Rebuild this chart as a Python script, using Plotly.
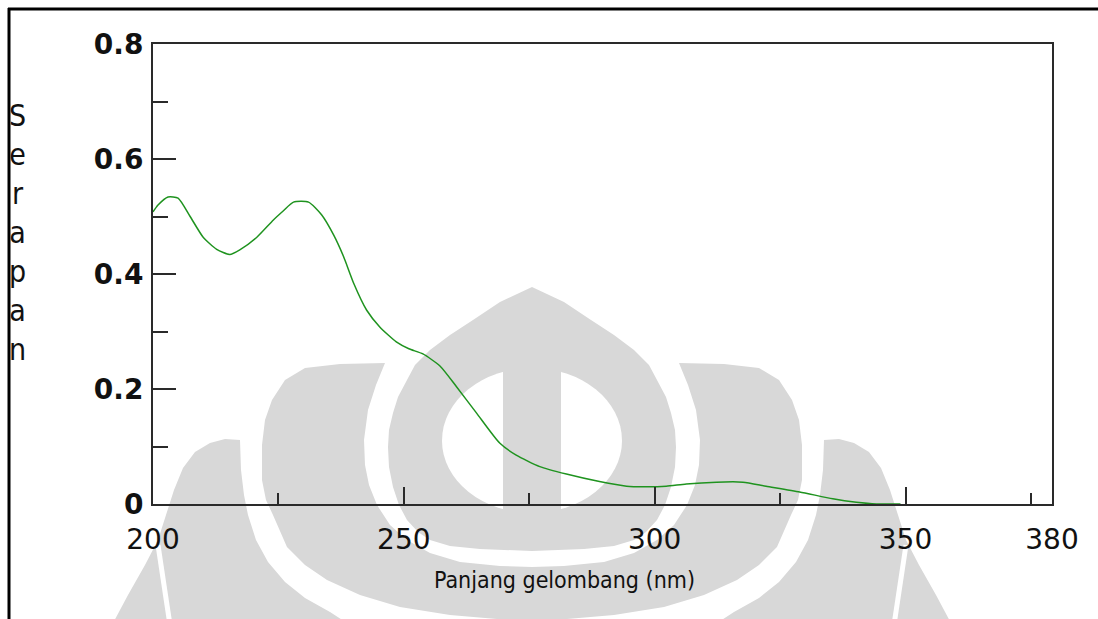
import plotly.graph_objects as go

# UV absorption spectrum
wavelength_nm = [200, 201, 203, 205, 207.4, 210, 212.7, 215.3, 217.3, 220.7, 224, 226,
                 228, 231, 233.6, 236, 238, 240, 242.6, 245.2, 248.5, 251, 253.8, 257.2,
                 260.5, 264.5, 269.1, 272.4, 277.1, 282.4, 289, 294.4, 298, 302.3, 306.3,
                 312.3, 317.6, 322.2, 328.9, 335.5, 340.2, 344.2, 349]
absorbance = [0.508, 0.52, 0.534, 0.532, 0.50, 0.464, 0.443, 0.434, 0.442, 0.464, 0.494, 0.51,
              0.525, 0.525, 0.503, 0.468, 0.43, 0.384, 0.337, 0.308, 0.282, 0.27, 0.261, 0.24,
              0.204, 0.158, 0.106, 0.085, 0.065, 0.052, 0.039, 0.031, 0.030, 0.031, 0.035,
              0.038, 0.038, 0.031, 0.021, 0.009, 0.003, 0.0, 0.0]

x_major_ticks = [200, 250, 300, 350, 379.2]
x_major_labels = ["200", "250", "300", "350", "380"]
x_minor_ticks = [225, 275, 325, 375]
y_major_ticks = [0, 0.2, 0.4, 0.6, 0.8]
y_major_labels = ["0", "0.2", "0.4", "0.6", "0.8"]
y_minor_ticks = [0.1, 0.3, 0.5, 0.7]

x_title = "Panjang gelombang (nm)"
y_title = "Serapan"

W, H = 1098, 619
ML, MR, MT, MB = 153, 46, 44, 115
PW, PH = W - ML - MR, H - MT - MB


def px(x):
    return (x - ML) / PW


def py(y):
    return (H - MB - y) / PH


def poly(points):
    return "M " + " L ".join(f"{px(x):.5f},{py(y):.5f}" for x, y in points) + " Z"


CX = 532  # symmetry axis of the background emblem (pixels)


def mirror(points):
    return [(2 * CX - x, y) for x, y in points]


GREY = "rgb(216,216,216)"

# background emblem, built from pixel-space outlines
drop_left = [(532, 287), (500, 302), (473, 320), (450, 335), (430, 350), (415, 365),
             (407, 380), (398, 397), (393, 413), (389, 430), (388, 447), (389, 467),
             (393, 487), (399, 505), (407, 520), (418, 532), (430, 540), (450, 546),
             (480, 549), (532, 551)]
drop = drop_left + mirror(drop_left[::-1])

cup_outer_left = [(385, 363), (340, 364), (305, 368), (285, 380), (272, 400), (265, 420),
                  (262, 445), (262, 480), (266, 500), (273, 515), (287, 547), (305, 565),
                  (327, 580), (360, 595), (400, 607), (450, 615), (532, 622)]
cup_inner_left = [(385, 363), (376, 385), (368, 410), (364, 440), (365, 465), (369, 485),
                  (377, 505), (390, 525), (407, 540), (430, 553), (460, 562), (500, 566),
                  (532, 567)]
cup = cup_outer_left + mirror(cup_outer_left[::-1]) + mirror(cup_inner_left) + cup_inner_left[::-1]

leaf_left = [(240, 440), (225, 439), (210, 443), (195, 452), (183, 468), (174, 490),
             (166, 515), (158, 540), (145, 565), (128, 595), (112, 625), (350, 625),
             (330, 612), (305, 598), (285, 582), (268, 562), (256, 540), (248, 515),
             (244, 495), (241, 470)]

shapes = []
for pts in (drop, cup, leaf_left, mirror(leaf_left)):
    shapes.append(dict(type="path", xref="paper", yref="paper", path=poly(pts),
                       fillcolor=GREY, line=dict(width=0), layer="below"))

# hollow inside the drop and its central bar
shapes.append(dict(type="circle", xref="paper", yref="paper",
                   x0=px(442), x1=px(622), y0=py(513), y1=py(368),
                   fillcolor="white", line=dict(width=0), layer="below"))
shapes.append(dict(type="rect", xref="paper", yref="paper",
                   x0=px(503), x1=px(561), y0=py(525), y1=py(355),
                   fillcolor=GREY, line=dict(width=0), layer="below"))
# slits in the outer leaves
for (x0, y0), (x1, y1) in (((158, 545), (170, 625)), ((2 * CX - 158, 545), (2 * CX - 170, 625))):
    shapes.append(dict(type="line", xref="paper", yref="paper",
                       x0=px(x0), y0=py(y0), x1=px(x1), y1=py(y1),
                       line=dict(color="white", width=5), layer="below"))

# page frame
shapes.append(dict(type="line", xref="paper", yref="paper", x0=px(8), y0=py(9),
                   x1=px(W + 5), y1=py(9), line=dict(color="black", width=3)))
shapes.append(dict(type="line", xref="paper", yref="paper", x0=px(9), y0=py(8),
                   x1=px(9), y1=py(H + 5), line=dict(color="black", width=3)))

fig = go.Figure()
fig.add_trace(go.Scatter(x=wavelength_nm, y=absorbance, mode="lines",
                         line=dict(color="#1f931f", width=1.5, shape="spline", smoothing=0.6),
                         hoverinfo="x+y", showlegend=False))

AXIS_COLOR = "#2a2a2a"
fig.update_xaxes(range=[200, 379.2], tickmode="array", tickvals=x_major_ticks,
                 ticktext=x_major_labels, ticks="inside", ticklen=17, tickwidth=2,
                 tickcolor=AXIS_COLOR, showline=True, linecolor=AXIS_COLOR, linewidth=2,
                 mirror=True, showgrid=False, zeroline=False, ticklabelstandoff=9,
                 tickfont=dict(family="DejaVu Sans", size=28, color="#111"),
                 minor=dict(tickmode="array", tickvals=x_minor_ticks, ticks="inside",
                            ticklen=11, tickwidth=2, tickcolor=AXIS_COLOR, showgrid=False))
fig.update_yaxes(range=[0, 0.8], tickmode="array", tickvals=y_major_ticks,
                 ticktext=y_major_labels, ticks="inside", ticklen=23, tickwidth=2,
                 tickcolor=AXIS_COLOR, showline=True, linecolor=AXIS_COLOR, linewidth=2,
                 mirror=True, showgrid=False, zeroline=False, ticklabelstandoff=2,
                 tickfont=dict(family="DejaVu Sans", size=28, color="#111", weight="bold"),
                 minor=dict(tickmode="array", tickvals=y_minor_ticks, ticks="inside",
                            ticklen=15, tickwidth=2, tickcolor=AXIS_COLOR, showgrid=False))

NARROW = "DejaVu Sans Condensed, Liberation Sans Narrow, Arial Narrow, sans-serif"
fig.add_annotation(text=x_title, xref="paper", yref="paper", x=px(564), y=py(580),
                   xanchor="center", yanchor="middle", showarrow=False,
                   font=dict(family=NARROW, size=23, color="#111"))
fig.add_annotation(text="<br>".join(y_title), xref="paper", yref="paper",
                   x=px(17), y=py(233), xanchor="center", yanchor="middle",
                   showarrow=False, align="center",
                   font=dict(family=NARROW, size=30, color="#111"))

fig.update_layout(width=W, height=H, margin=dict(l=ML, r=MR, t=MT, b=MB),
                  paper_bgcolor="white", plot_bgcolor="rgba(0,0,0,0)",
                  shapes=shapes)

fig.write_html("out.html")
